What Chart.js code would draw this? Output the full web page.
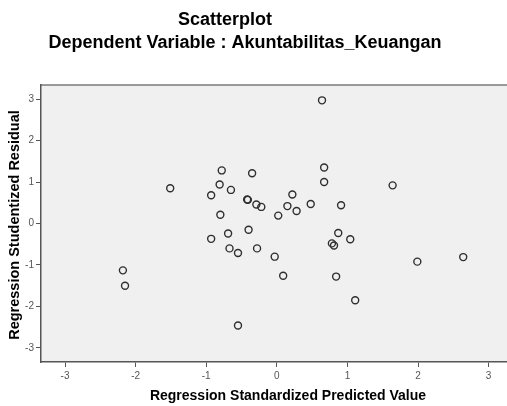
<!DOCTYPE html>
<html><head><meta charset="utf-8">
<script src="https://cdn.jsdelivr.net/npm/chart.js@4/dist/chart.umd.min.js"></script>
<style>html,body{margin:0;padding:0;background:#fff}#wrap{width:507px;height:406px}</style>
</head><body><div id="wrap"><canvas id="c" width="507" height="406"></canvas></div>
<script>
const titleLines = ["Scatterplot", "Dependent Variable : Akuntabilitas_Keuangan"];
const xAxisTitle = "Regression Standardized Predicted Value";
const yAxisTitle = "Regression Studentized Residual";
const xTicks = [-3, -2, -1, 0, 1, 2, 3];
const yTicks = [-3, -2, -1, 0, 1, 2, 3];
const predicted = [0.64, -0.78, -0.35, 0.67, -0.81, -0.65, -0.93, 0.67, -0.42, -0.41, -0.29, -0.22, 0.22, 0.15, 0.28, 0.48, 0.91, 0.02, -0.80, -0.93, -0.69, -0.40, 0.87, 1.04, 0.78, 0.81, -0.67, -0.55, -0.28, -0.03, 0.09, 0.84, 1.11, -0.55, -1.51, -2.18, -2.15, 1.64, 1.99, 2.64];
const residual  = [2.97, 1.28, 1.21, 1.35, 0.94, 0.81, 0.68, 1.00, 0.58, 0.57, 0.46, 0.40, 0.70, 0.42, 0.30, 0.47, 0.44, 0.19, 0.21, -0.37, -0.24, -0.15, -0.23, -0.38, -0.48, -0.53, -0.60, -0.71, -0.60, -0.80, -1.26, -1.28, -1.85, -2.46, 0.85, -1.13, -1.50, 0.92, -0.92, -0.81];

const points = predicted.map((x, i) => ({ x: x, y: residual[i] }));
const FONT = "'Liberation Sans', Arial, sans-serif";

const decor = {
  id: 'decor',
  beforeDraw(chart) {
    const { ctx, chartArea: a } = chart;
    ctx.save();
    ctx.fillStyle = '#f0f0f0';
    ctx.fillRect(a.left, a.top, a.right - a.left, a.bottom - a.top);
    ctx.strokeStyle = '#7a7a7a';
    ctx.lineWidth = 1.5;
    ctx.beginPath();
    ctx.moveTo(a.left, a.top);
    ctx.lineTo(a.right, a.top);
    ctx.stroke();
    ctx.restore();
  },
  afterDraw(chart) {
    const ctx = chart.ctx;
    ctx.save();
    ctx.fillStyle = '#000';
    ctx.textAlign = 'center';
    ctx.textBaseline = 'middle';
    ctx.font = 'bold 18px ' + FONT;
    ctx.fillText(titleLines[0], 225, 20);
    ctx.fillText(titleLines[1], 245, 43);
    ctx.font = 'bold 14px ' + FONT;
    ctx.fillText(xAxisTitle, 288, 396);
    ctx.font = 'bold 14.5px ' + FONT;
    ctx.translate(15, 225);
    ctx.rotate(-Math.PI / 2);
    ctx.fillText(yAxisTitle, 0, 0);
    ctx.restore();
  }
};

new Chart(document.getElementById('c'), {
  type: 'scatter',
  data: { datasets: [{
    data: points,
    pointStyle: 'circle',
    pointRadius: 3.5,
    pointHoverRadius: 3.5,
    backgroundColor: 'rgba(0,0,0,0)',
    borderColor: '#2e2e2e',
    borderWidth: 1.4
  }] },
  options: {
    responsive: false,
    animation: false,
    events: [],
    layout: { autoPadding: false, padding: { top: 85, left: 0, right: 0, bottom: 0 } },
    plugins: { legend: { display: false }, title: { display: false }, tooltip: { enabled: false } },
    scales: {
      x: {
        type: 'linear', min: -3.34, max: 3.26,
        afterBuildTicks: s => { s.ticks = xTicks.map(v => ({ value: v })); },
        afterFit: s => { s.height = 44; },
        grid: { display: true, drawOnChartArea: false, drawTicks: true, tickLength: 5, color: '#555', lineWidth: 1 },
        border: { display: true, color: '#555', width: 1.5 },
        ticks: { font: { size: 10, family: FONT }, color: '#555', padding: 3, maxRotation: 0, autoSkip: false }
      },
      y: {
        type: 'linear', min: -3.34, max: 3.34,
        afterBuildTicks: s => { s.ticks = yTicks.map(v => ({ value: v })); },
        afterFit: s => { s.width = 41; },
        grid: { display: true, drawOnChartArea: false, drawTicks: true, tickLength: 5, color: '#555', lineWidth: 1 },
        border: { display: true, color: '#555', width: 1.5 },
        ticks: { font: { size: 10, family: FONT }, color: '#555', padding: 2, autoSkip: false }
      }
    }
  },
  plugins: [decor]
});
</script></body></html>
